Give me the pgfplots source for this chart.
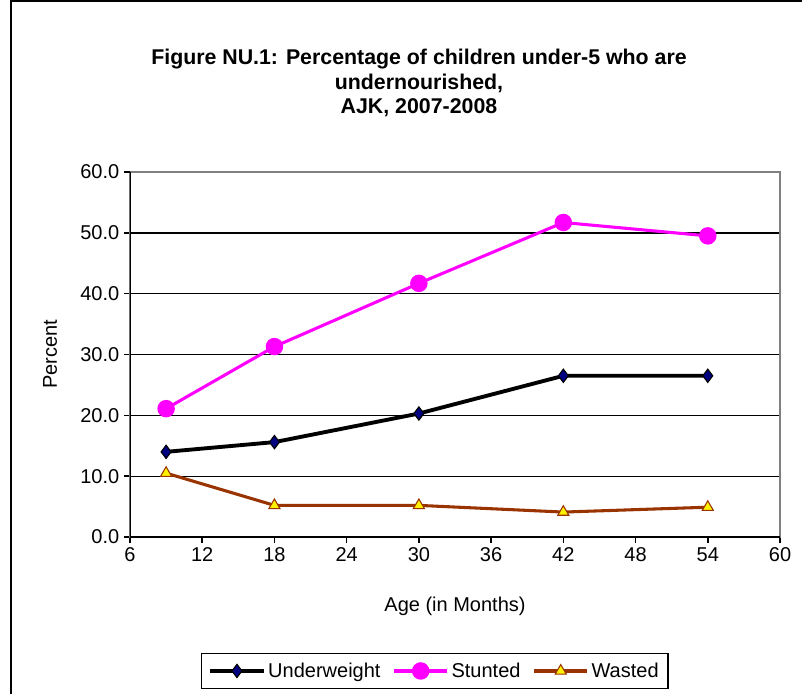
\documentclass[border=0pt]{standalone}
\usepackage{pgfplots}
\pgfplotsset{compat=1.18}
\usepackage{fontspec}
\setmainfont{Liberation Sans}
\definecolor{navymk}{HTML}{000080}
\definecolor{stunt}{HTML}{FF00FF}
\definecolor{waste}{HTML}{993300}
\definecolor{gridgrey}{HTML}{808080}
\begin{document}
\begin{tikzpicture}
% frame and title, in pixels of the 802 x 694 reference, origin at the axis' lower left corner
\begin{scope}[x=0.75pt,y=0.75pt]
\useasboundingbox (-130,-157) rectangle (672,537);
\draw[line width=1.1pt] (-119,-157) -- (-119,536) -- (672,536);
\node[font=\bfseries\fontsize{16}{18.5}\selectfont,align=center] at (289,454)
  {Figure NU.1: Percentage of children under-5 who are\\undernourished,\\AJK, 2007-2008};
\end{scope}
\begin{axis}[
    at={(0pt,0pt)}, anchor=south west,
    scale only axis, width=487.5pt, height=273.75pt,
    xmin=6, xmax=60, ymin=0, ymax=60,
    xtick={6,12,...,60},
    ytick={0,10,...,50},
    extra y ticks={60},
    extra y tick style={grid=none},
    ymajorgrids,
    major grid style={black, line width=1pt},
    axis line style={gridgrey, line width=1.3pt},
    tick style={black, line width=1.2pt},
    tick align=outside,
    major tick length=4.5pt,
    xtick pos=bottom, ytick pos=left,
    font=\fontsize{15}{17}\selectfont,
    /pgf/number format/assume math mode=true,
    yticklabel style={/pgf/number format/.cd, fixed, fixed zerofill, precision=1},
    xticklabel style={/pgf/number format/.cd, fixed, precision=0},
    xlabel={Age (in Months)},
    ylabel={Percent},
    xlabel style={at={(axis description cs:0.5,0)}, anchor=center, yshift=-52pt},
    ylabel style={at={(axis description cs:0,0.5)}, anchor=center, yshift=60pt},
    legend columns=3,
    legend style={at={(axis description cs:0.469,-0.367)}, anchor=center,
        draw=black, line width=1.1pt, font=\fontsize{15}{17}\selectfont,
        /tikz/every even column/.append style={column sep=7pt},
        inner xsep=5pt, inner ysep=5pt},
    legend image code/.code={
        \draw[#1, mark repeat=2, mark phase=2] plot coordinates {(0pt,0pt) (20pt,0pt) (40pt,0pt)};
    },
]
\addplot[black, line width=2.9pt, mark=diamond*, mark size=5pt,
    mark options={fill=navymk, draw=black, line width=0.8pt}]
    coordinates {(9,14.0) (18,15.6) (30,20.3) (42,26.5) (54,26.5)};
\addlegendentry{Underweight}
\addplot[stunt, line width=2.3pt, mark=*, mark size=5.4pt,
    mark options={fill=stunt, draw=stunt}]
    coordinates {(9,21.1) (18,31.3) (30,41.7) (42,51.7) (54,49.5)};
\addlegendentry{Stunted}
\addplot[waste, line width=2.3pt, mark=triangle*, mark size=4.8pt,
    mark options={fill=yellow, draw=waste, line width=0.8pt}]
    coordinates {(9,10.5) (18,5.2) (30,5.2) (42,4.1) (54,4.9)};
\addlegendentry{Wasted}
\draw[black, line width=1.5pt] (rel axis cs:0,1) -- (rel axis cs:0,0) -- (rel axis cs:1,0);
\end{axis}
\end{tikzpicture}
\end{document}
